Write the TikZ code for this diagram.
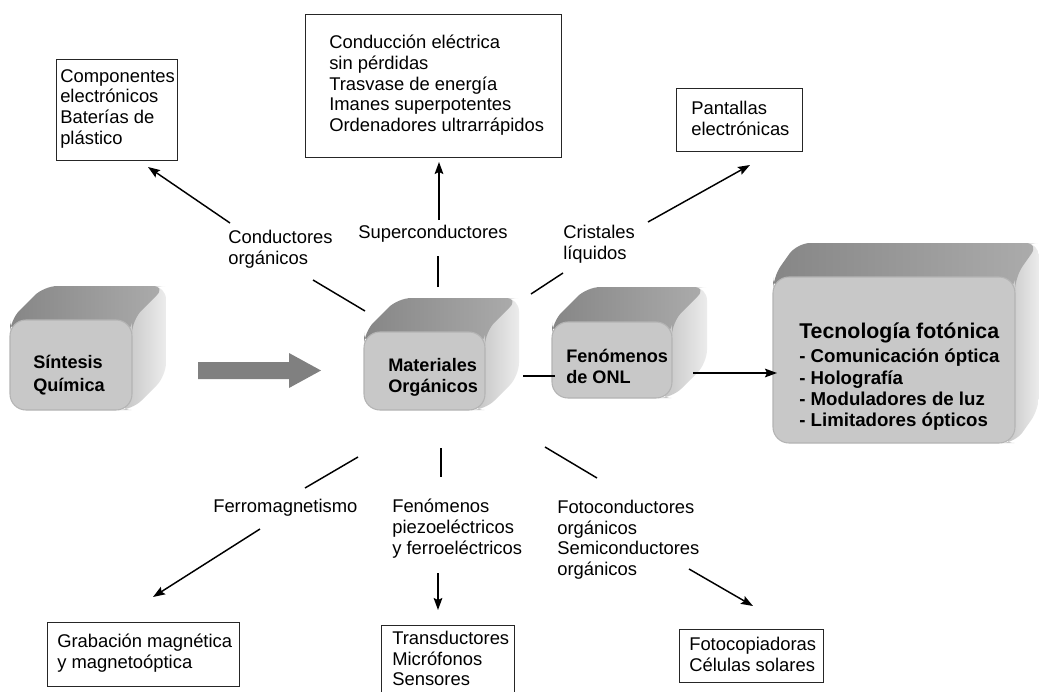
\documentclass[tikz,border=0pt]{standalone}
\usepackage{fontspec}
\setmainfont{Liberation Sans}
\usetikzlibrary{arrows.meta}
\definecolor{cubeF}{RGB}{200,200,200}
\definecolor{cubeFb}{RGB}{180,180,180}
\definecolor{cubeT1}{RGB}{134,134,134}
\definecolor{cubeT2}{RGB}{172,172,172}
\definecolor{cubeR1}{RGB}{192,192,192}
\definecolor{cubeR2}{RGB}{236,236,236}
\definecolor{bigarrow}{RGB}{128,128,128}
\newcommand\cubo[6]{%
  % #1 x, #2 y of front top-left, #3 width, #4 height, #5 depth x, #6 depth y
  \shade[left color=cubeR1,right color=cubeR2,rounded corners=10]
    (#1+#3-14,#2) -- (#1+#3-14+#5,#2-#6) -- (#1+#3+#5,#2-#6) -- (#1+#3+#5,#2+#4-#6) -- (#1+#3,#2+#4) -- (#1+#3-14,#2+#4) -- cycle;
  \shade[left color=cubeT1,right color=cubeT2,rounded corners=10]
    (#1,#2+14) -- (#1,#2) -- (#1+#5,#2-#6) -- (#1+#3+#5,#2-#6) -- (#1+#3,#2) -- (#1+#3,#2+14) -- cycle;
  \filldraw[fill=cubeF,draw=cubeFb,line width=0.8pt,rounded corners=12] (#1,#2) rectangle (#1+#3,#2+#4);
}
\begin{document}
\begin{tikzpicture}[x=0.75pt,y=-0.75pt,
  txt/.style={anchor=north west,inner sep=0pt,align=left,font=\fontsize{13.8}{15.5}\selectfont},
  cubetxt/.style={anchor=north west,inner sep=0pt,align=left,font=\fontsize{13.6}{16}\selectfont\bfseries},
  box/.style={draw=black!85,line width=0.8pt,anchor=north west,inner sep=0pt},
  spoke/.style={line width=1.1pt},
  arr/.style={line width=1.1pt,-{Stealth[length=9pt,width=6.5pt,inset=1.5pt]}},
]
\useasboundingbox (0,0) rectangle (1039,692);
\fill[white] (0,0) rectangle (1039,692);

% ---- 3D blocks
\cubo{10}{320}{122}{90}{34}{34}
\node[cubetxt,font=\fontsize{13.6}{17}\selectfont\bfseries] (sq) at (33,355) {Síntesis\\Química};
\cubo{364}{332}{121}{78}{34}{34}
\node[cubetxt] (mo) at (388,358) {Materiales\\Orgánicos};
\cubo{552}{322}{120}{76}{35}{35}
\node[cubetxt] (onl) at (566,349) {Fenómenos\\de ONL};
\cubo{773}{277}{242}{166}{24}{34}
\node[anchor=north west,inner sep=0pt,align=left,font=\fontsize{14}{16}\selectfont\bfseries] (tf) at (799,323)
  {{\fontsize{16}{18}\selectfont Tecnología fotónica}\\[2pt]- Comunicación óptica\\- Holografía\\- Moduladores de luz\\- Limitadores ópticos};

% big grey arrow
\fill[bigarrow] (198,362) -- (289,362) -- (289,353) -- (321,370.5) -- (289,388) -- (289,379) -- (198,379) -- cycle;

% ---- boxes
\node[box,minimum width=121*0.75pt,minimum height=101*0.75pt] (b1) at (56,59) {};
\node[txt] (b1t) at (60,69) {Componentes\\electrónicos\\Baterías de\\plástico};
\node[box,minimum width=256*0.75pt,minimum height=143*0.75pt] (b2) at (305,14) {};
\node[txt] (b2t) at (329,35) {Conducción eléctrica\\sin pérdidas\\Trasvase de energía\\Imanes superpotentes\\Ordenadores ultrarrápidos};
\node[box,minimum width=126*0.75pt,minimum height=63*0.75pt] (b3) at (676,88) {};
\node[txt] (b3t) at (691,101) {Pantallas\\electrónicas};
\node[box,minimum width=192*0.75pt,minimum height=64*0.75pt] (b4) at (47,622) {};
\node[txt] (b4t) at (57,634) {Grabación magnética\\y magnetoóptica};
\node[box,minimum width=133*0.75pt,minimum height=80*0.75pt] (b5) at (381,625) {};
\node[txt] (b5t) at (392,631) {Transductores\\Micrófonos\\Sensores};
\node[box,minimum width=144*0.75pt,minimum height=53*0.75pt] (b6) at (679,629) {};
\node[txt] (b6t) at (689,637) {Fotocopiadoras\\Células solares};

% ---- labels
\node[txt] (l1) at (228,230) {Conductores\\orgánicos};
\node[txt] (l2) at (358,225) {Superconductores};
\node[txt] (l3) at (563,225) {Cristales\\líquidos};
\node[txt] (l4) at (213,499) {Ferromagnetismo};
\node[txt] (l5) at (392,499) {Fenómenos\\piezoeléctricos\\y ferroeléctricos};
\node[txt] (l6) at (557,500) {Fotoconductores\\orgánicos\\Semiconductores\\orgánicos};

% ---- connector end points
\coordinate (s1a) at (365,311); \coordinate (s1b) at (313,280);
\coordinate (s2a) at (438,287); \coordinate (s2b) at (438,256);
\coordinate (s3a) at (531,294); \coordinate (s3b) at (563,273);
\coordinate (s4a) at (358,457); \coordinate (s4b) at (305,488);
\coordinate (s5a) at (441,448); \coordinate (s5b) at (441,477);
\coordinate (s6a) at (545,447); \coordinate (s6b) at (597,478);
\coordinate (moR) at (523,376); \coordinate (onlL) at (555,376);
\coordinate (onlR) at (693,373); \coordinate (tfL) at (777,373);
\coordinate (a1a) at (230,223); \coordinate (a1b) at (148,167);
\coordinate (a2a) at (439,220); \coordinate (a2b) at (439,162);
\coordinate (a3a) at (648,222); \coordinate (a3b) at (750,165);
\coordinate (a4a) at (260,529); \coordinate (a4b) at (153,597);
\coordinate (a5a) at (438,573); \coordinate (a5b) at (438,610);
\coordinate (a6a) at (689,569); \coordinate (a6b) at (753,606);

% spokes
\draw[spoke] (s1a) -- (s1b);
\draw[spoke] (s2a) -- (s2b);
\draw[spoke] (s3a) -- (s3b);
\draw[spoke] (s4a) -- (s4b);
\draw[spoke] (s5a) -- (s5b);
\draw[spoke] (s6a) -- (s6b);
\draw[spoke] (moR) -- (onlL);
% arrows
\draw[arr] (onlR) -- (tfL);
\draw[arr] (a1a) -- (a1b);
\draw[arr] (a2a) -- (a2b);
\draw[arr] (a3a) -- (a3b);
\draw[arr] (a4a) -- (a4b);
\draw[arr] (a5a) -- (a5b);
\draw[arr] (a6a) -- (a6b);
\end{tikzpicture}
\end{document}
